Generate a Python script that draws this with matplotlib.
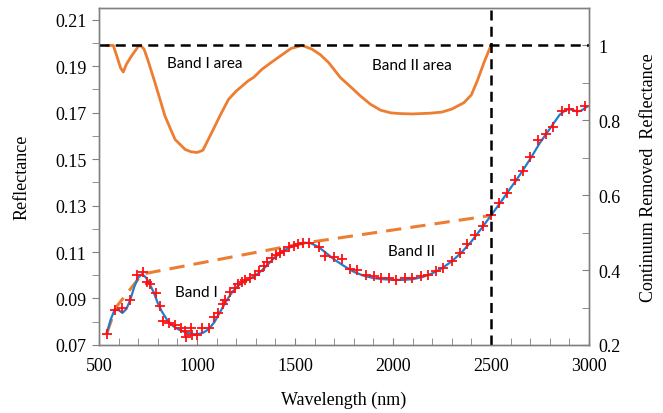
import numpy as np
import matplotlib
matplotlib.use("Agg")
import matplotlib.pyplot as plt
from matplotlib.ticker import MultipleLocator, FuncFormatter

# measured reflectance (red crosses)
meas_wl = [539, 582, 616, 658, 696, 726, 747, 761, 791, 813, 829, 858, 889, 919,
           940, 943, 970, 974, 999, 1025, 1059, 1089, 1107, 1132, 1144, 1170, 1192,
           1209, 1230, 1246, 1272, 1297, 1318, 1340, 1357, 1383, 1405, 1425, 1446,
           1468, 1493, 1516, 1539, 1574, 1621, 1655, 1698, 1741, 1780, 1817, 1860,
           1902, 1940, 1979, 2018, 2059, 2099, 2141, 2178, 2218, 2257, 2303, 2342,
           2380, 2419, 2459, 2499, 2541, 2581, 2623, 2661, 2698, 2738, 2780, 2819,
           2865, 2899, 2938, 2979]
meas_refl = [0.0749, 0.0849, 0.0857, 0.0893, 0.1002, 0.1012, 0.0972, 0.0962, 0.0924,
             0.0866, 0.0804, 0.0794, 0.0786, 0.0771, 0.0759, 0.0734, 0.0774, 0.0741,
             0.0741, 0.0771, 0.0771, 0.0819, 0.0838, 0.0875, 0.0893, 0.0927, 0.0947,
             0.0962, 0.0972, 0.0980, 0.0987, 0.1002, 0.1017, 0.1039, 0.1057, 0.1076,
             0.1087, 0.1096, 0.1106, 0.1121, 0.1125, 0.1133, 0.1138, 0.1140, 0.1121,
             0.1084, 0.1079, 0.1069, 0.1027, 0.1024, 0.1002, 0.0997, 0.0987, 0.0987,
             0.0980, 0.0987, 0.0987, 0.0997, 0.1002, 0.1017, 0.1031, 0.1061, 0.1094,
             0.1133, 0.1173, 0.1210, 0.1258, 0.1310, 0.1356, 0.1408, 0.1448, 0.1507,
             0.1582, 0.1607, 0.1637, 0.1705, 0.1716, 0.1705, 0.1727]

# fitted reflectance (blue line)
fit_wl = [540, 560, 580, 600, 620, 640, 660, 680, 700, 720, 740, 760, 780, 800, 820,
          850, 880, 910, 940, 970, 1000, 1030, 1060, 1090, 1120, 1150, 1180, 1210,
          1240, 1270, 1300, 1330, 1360, 1400, 1450, 1500, 1550, 1580, 1620, 1660,
          1700, 1750, 1800, 1850, 1900, 1950, 2000, 2050, 2100, 2150, 2200, 2250,
          2300, 2350, 2400, 2450, 2500, 2550, 2600, 2650, 2700, 2750, 2800, 2850,
          2880, 2900, 2920, 2940, 2960, 2990]
fit_refl = [0.0750, 0.0810, 0.0852, 0.0850, 0.0838, 0.0855, 0.0895, 0.0950, 0.0990,
            0.1005, 0.0990, 0.0960, 0.0925, 0.0880, 0.0845, 0.0805, 0.0780, 0.0765,
            0.0755, 0.0748, 0.0746, 0.0752, 0.0768, 0.0800, 0.0845, 0.0890, 0.0928,
            0.0955, 0.0972, 0.0985, 0.1000, 0.1020, 0.1045, 0.1080, 0.1110, 0.1130,
            0.1140, 0.1138, 0.1122, 0.1095, 0.1068, 0.1040, 0.1015, 0.0998, 0.0988,
            0.0983, 0.0980, 0.0980, 0.0983, 0.0992, 0.1008, 0.1030, 0.1060, 0.1098,
            0.1145, 0.1200, 0.1257, 0.1315, 0.1375, 0.1435, 0.1500, 0.1570, 0.1630,
            0.1690, 0.1710, 0.1715, 0.1710, 0.1705, 0.1708, 0.1725]

# convex hull (orange dashed)
hull_wl = [540, 585, 720, 1560, 2500]
hull_refl = [0.0750, 0.0860, 0.1005, 0.1140, 0.1257]

# continuum removed reflectance (orange line, right axis)
cr_wl = [540, 573, 595, 610, 624, 640, 670, 700, 712, 730, 750, 786, 837, 888, 940,
         970, 1000, 1030, 1076, 1120, 1161, 1200, 1229, 1260, 1290, 1331, 1380, 1434,
         1480, 1536, 1587, 1630, 1672, 1732, 1783, 1834, 1885, 1937, 1988, 2035, 2100,
         2190, 2250, 2300, 2362, 2400, 2430, 2465, 2500]
cr_val = [1.0, 1.0, 0.965, 0.94, 0.929, 0.95, 0.975, 0.997, 1.0, 0.99, 0.96, 0.90,
          0.811, 0.749, 0.722, 0.716, 0.714, 0.72, 0.768, 0.815, 0.856, 0.878, 0.891,
          0.905, 0.915, 0.936, 0.955, 0.975, 0.992, 1.0, 0.99, 0.975, 0.954, 0.914,
          0.890, 0.865, 0.843, 0.827, 0.820, 0.818, 0.817, 0.819, 0.822, 0.83, 0.847,
          0.868, 0.905, 0.955, 1.0]

BLUE = "#1f7fcf"
ORANGE = "#ED7D31"

plt.rcParams["font.family"] = "Liberation Serif"

fig = plt.figure(figsize=(6.63, 4.14), dpi=100)
ax = fig.add_axes([0.1493, 0.1643, 0.7390, 0.8140])
ax2 = ax.twinx()

ax.plot(fit_wl, fit_refl, color=BLUE, lw=1.6, zorder=3)
ax.plot(meas_wl, meas_refl, ls="none", marker="+", ms=7, mew=1.3, color="#ff1010", zorder=4)
ax.plot(hull_wl, hull_refl, color=ORANGE, lw=2.2, dashes=(5, 3), zorder=2)

ax2.plot(cr_wl, cr_val, color=ORANGE, lw=2.0)
ax2.axhline(1.0, color="black", lw=1.8, dashes=(4, 2.5))
ax2.axvline(2500, color="black", lw=1.8, dashes=(4, 2.5))

ax.set_xlim(500, 3000)
ax.set_ylim(0.07, 0.215)
ax2.set_ylim(0.2, 1.1)

ax.xaxis.set_major_locator(MultipleLocator(500))
ax.xaxis.set_minor_locator(MultipleLocator(100))
ax.yaxis.set_minor_locator(MultipleLocator(0.01))
ax.set_yticks(np.arange(0.07, 0.2101, 0.02))
ax.yaxis.set_major_formatter(FuncFormatter(lambda v, p: f"{v:.2f}"))
ax2.yaxis.set_major_locator(MultipleLocator(0.2))
ax2.yaxis.set_minor_locator(MultipleLocator(0.1))
ax2.yaxis.set_major_formatter(FuncFormatter(lambda v, p: f"{v:g}"))

ax.tick_params(axis="x", which="both", direction="in", length=5, color="#808080",
               labelsize=13, pad=9)
ax.tick_params(axis="y", which="both", direction="out", length=5, color="#808080",
               labelsize=13, pad=4)
ax2.tick_params(axis="y", which="both", direction="in", length=5, color="#808080",
                labelsize=13, pad=7)
for a in (ax, ax2):
    for s in a.spines.values():
        s.set_color("#808080")
        s.set_linewidth(1.0)

ax.set_xlabel("Wavelength (nm)", fontsize=13, labelpad=12)
ax.set_ylabel("Reflectance", fontsize=13, labelpad=18)
ax2.set_ylabel("Continuum Removed  Reflectance", fontsize=13, labelpad=14)

txt = dict(family="Lato", fontsize=11, ha="center", va="center")
ax2.text(1042, 0.952, "Band I area", **txt)
ax2.text(2095, 0.947, "Band II area", **txt)
ax.text(996, 0.0928, "Band I", **txt)
ax.text(2095, 0.1106, "Band II", **txt)

fig.savefig("out.png", dpi=100)
